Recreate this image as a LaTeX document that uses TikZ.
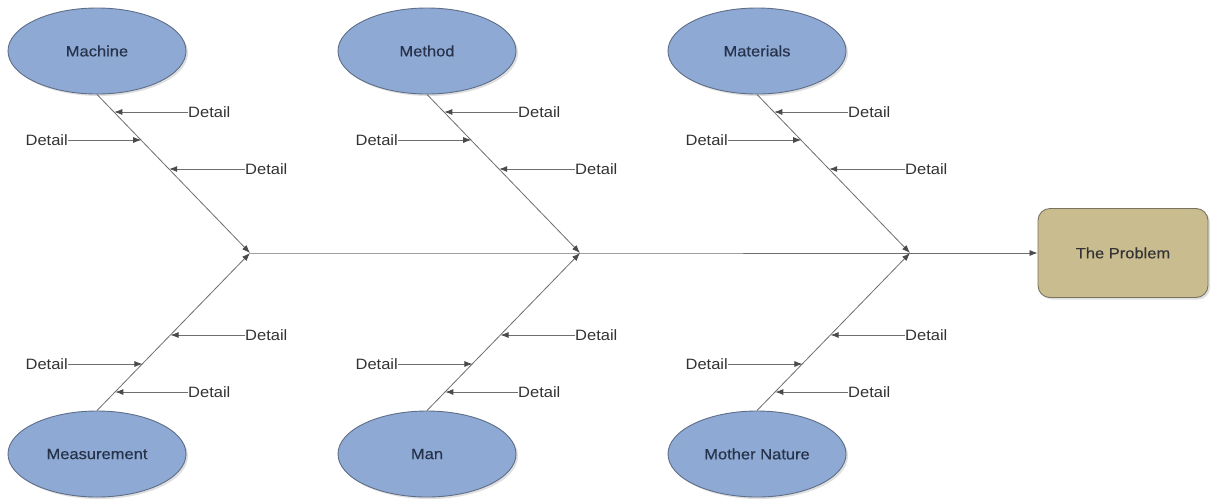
\documentclass[tikz,border=0pt]{standalone}
\usepackage{fontspec}
\setmainfont[FakeStretch=1.1]{Liberation Sans}
\newfontfamily\labelfont[FakeStretch=1.1,FakeBold=0.4]{Liberation Sans}
\usetikzlibrary{arrows.meta,calc,shapes.geometric,shadows}
\definecolor{ellfill}{HTML}{8EA9D3}
\definecolor{ellborder}{HTML}{5E6E88}
\definecolor{labeltext}{HTML}{26324A}
\definecolor{boxfill}{HTML}{C9BC8F}
\definecolor{boxborder}{HTML}{77735F}
\definecolor{linecol}{HTML}{6E6E6E}
\definecolor{tipcol}{HTML}{4A4A4A}
\definecolor{dettext}{HTML}{333333}
\begin{document}
\begin{tikzpicture}[x=1pt,y=-1pt,
  cause/.style={ellipse, draw=ellborder, line width=0.9pt, fill=ellfill,
    minimum width=178pt, minimum height=86pt, inner sep=0pt,
    font=\labelfont\fontsize{15}{17}\selectfont, text=labeltext,
    drop shadow={opacity=0.25, shadow xshift=2pt, shadow yshift=-2pt}},
  problem/.style={rectangle, rounded corners=12pt, draw=boxborder, line width=0.9pt,
    fill=boxfill, minimum width=170pt, minimum height=89pt, inner sep=0pt,
    font=\labelfont\fontsize{15}{17}\selectfont, text=black!80,
    drop shadow={opacity=0.25, shadow xshift=2pt, shadow yshift=-2pt}},
  det/.style={inner sep=0pt, font=\fontsize{15}{17}\selectfont, text=dettext},
  bone/.style={draw=linecol, line width=0.8pt, -{Latex[length=8pt,width=6pt,color=tipcol]}},
  arr/.style={draw=linecol, line width=0.8pt, -{Latex[length=8pt,width=6pt,color=tipcol]}},
  spine/.style={draw=linecol, line width=0.8pt}]
\useasboundingbox[fill=white] (0,0) rectangle (1212,499);

\node[problem] (prob) at (1123,253) {The Problem};

\foreach \i/\x/\top/\bot in {1/0/Machine/Measurement, 2/330/Method/Man, 3/660/Materials/Mother Nature}{
  \node[cause] (t\i) at (97+\x,51) {\top};
  \node[cause] (b\i) at (97+\x,454) {\bot};
  \coordinate (j\i) at (250+\x,253);
  \draw[bone] (t\i.south) -- (j\i);
  \draw[bone] (b\i.north) -- (j\i);
  % upper details
  \coordinate (ua\i) at ($(t\i.south)!0.113!(j\i)$);
  \coordinate (ub\i) at ($(t\i.south)!0.289!(j\i)$);
  \coordinate (uc\i) at ($(t\i.south)!0.472!(j\i)$);
  \node[det, anchor=west] (dua\i) at (188+\x,112) {Detail};
  \node[det, anchor=east] (dub\i) at (68+\x,140) {Detail};
  \node[det, anchor=west] (duc\i) at (245+\x,169) {Detail};
  \draw[arr] (dua\i.west) -- (dua\i.west -| ua\i);
  \draw[arr] (dub\i.east) -- (dub\i.east -| ub\i);
  \draw[arr] (duc\i.west) -- (duc\i.west -| uc\i);
  % lower details
  \coordinate (la\i) at ($(j\i)!0.519!(b\i.north)$);
  \coordinate (lb\i) at ($(j\i)!0.703!(b\i.north)$);
  \coordinate (lc\i) at ($(j\i)!0.880!(b\i.north)$);
  \node[det, anchor=west] (dla\i) at (245+\x,335) {Detail};
  \node[det, anchor=east] (dlb\i) at (68+\x,364) {Detail};
  \node[det, anchor=west] (dlc\i) at (188+\x,392) {Detail};
  \draw[arr] (dla\i.west) -- (dla\i.west -| la\i);
  \draw[arr] (dlb\i.east) -- (dlb\i.east -| lb\i);
  \draw[arr] (dlc\i.west) -- (dlc\i.west -| lc\i);
}
\draw[spine] (j1) -- (j2) -- (j3);
\draw[arr] (j3) -- (prob.west);
\end{tikzpicture}
\end{document}
